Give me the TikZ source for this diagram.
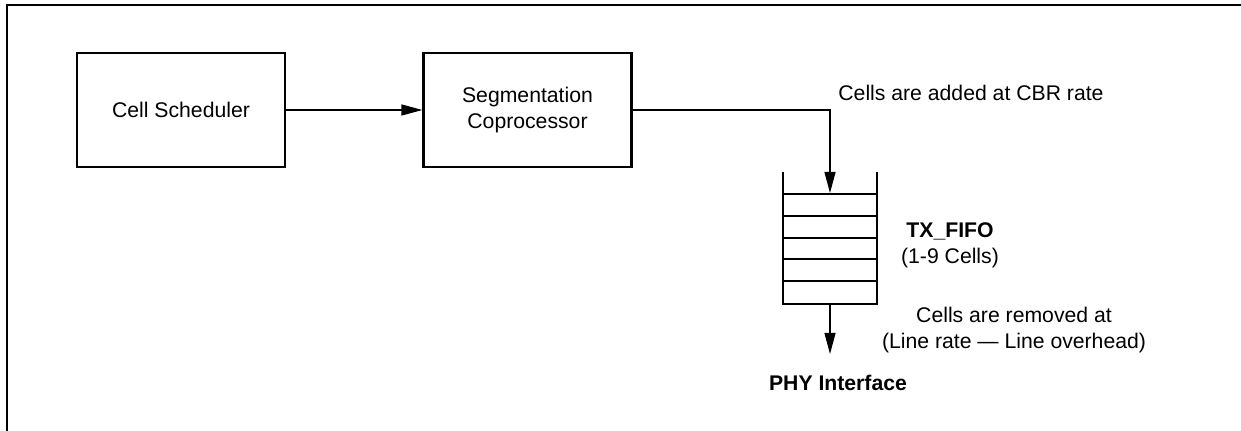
\documentclass[tikz,border=0pt]{standalone}
\usepackage{fontspec}
\setmainfont{Liberation Sans}
\usetikzlibrary{arrows.meta}
\begin{document}
\begin{tikzpicture}[x=0.5pt,y=-0.5pt,
  every node/.style={font=\fontsize{10.6}{12.8}\selectfont, inner sep=0pt},
  block/.style={draw, line width=1.1pt, minimum width=104pt, minimum height=57pt, align=center},
  conn/.style={line width=0.6pt, -{Triangle[length=10.5pt,width=5.5pt]}},
  frame/.style={line width=0.6pt},
  fifoline/.style={line width=1.1pt},
  lbl/.style={align=center}]
\useasboundingbox (0,0) rectangle (1241,431);
\draw[frame] (7,431) -- (7,5) -- (1241,5);
\node[block] (sched) at (181,110) {Cell Scheduler};
\node[block] (seg) at (527.5,110) {Segmentation\\Coprocessor};
\node[minimum width=47pt, minimum height=66pt] (fifo) at (830,238) {};
\draw[fifoline] (783,172) -- (783,304) -- (877,304) -- (877,172);
\foreach \y in {194,216,238,259,281} \draw[fifoline] (783,\y) -- (877,\y);
\coordinate (fin) at (830,193);
\coordinate (fout) at (830,354);
\draw[conn] (sched.east) -- (seg.west);
\draw[conn] (seg.east) -| (fin);
\draw[conn] (fifo.south) -- (fout);
\node[font=\fontsize{10.6}{12.8}\selectfont\bfseries] (phy) at (838,383) {PHY Interface};
\node[lbl] (fifolbl) at (950,245) {\textbf{TX\_FIFO}\\(1-9 Cells)};
\node[anchor=west] (addlbl) at (838,93) {Cells are added at CBR rate};
\node[lbl] (remlbl) at (1014,330) {Cells are removed at\\(Line rate — Line overhead)};
\end{tikzpicture}
\end{document}
